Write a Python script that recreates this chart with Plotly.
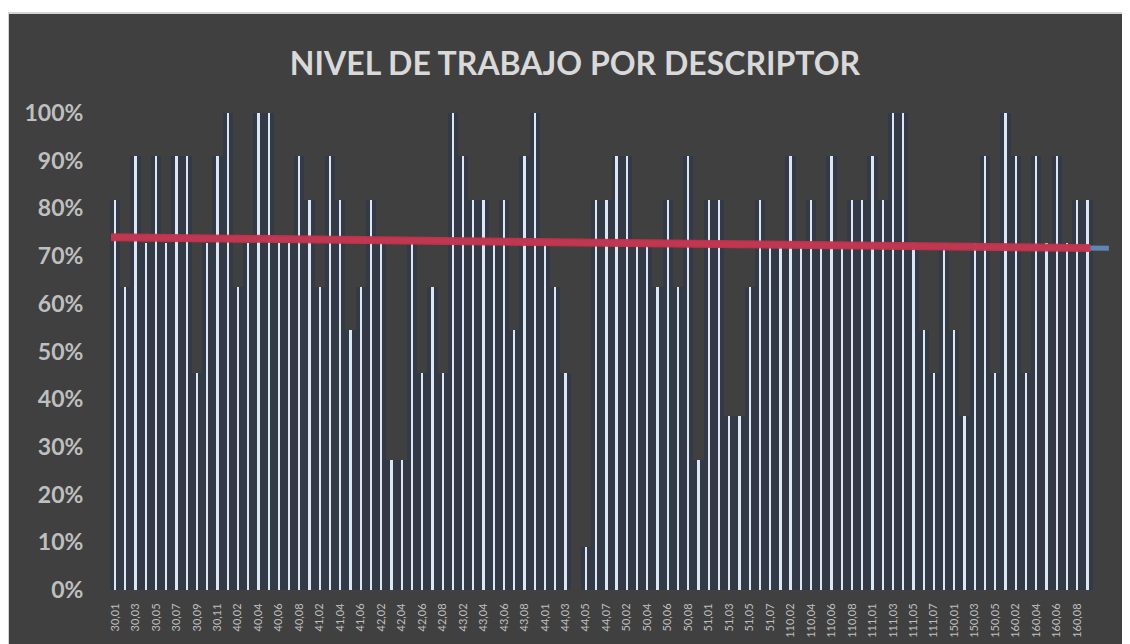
import numpy as np
import plotly.graph_objects as go

# ---------------- data ----------------
descriptors = [
    "30,01", "30,02", "30,03", "30,04", "30,05", "30,06", "30,07", "30,08", "30,09", "30,10", "30,11",
    "40,01", "40,02", "40,03", "40,04", "40,05", "40,06", "40,07", "40,08",
    "41,01", "41,02", "41,03", "41,04", "41,05", "41,06",
    "42,01", "42,02", "42,03", "42,04", "42,05", "42,06", "42,07", "42,08",
    "43,01", "43,02", "43,03", "43,04", "43,05", "43,06", "43,07", "43,08", "43,09",
    "44,01", "44,02", "44,03", "44,04", "44,05", "44,06", "44,07",
    "50,01", "50,02", "50,03", "50,04", "50,05", "50,06", "50,07", "50,08", "50,09",
    "51,01", "51,02", "51,03", "51,04", "51,05", "51,06", "51,07",
    "110,01", "110,02", "110,03", "110,04", "110,05", "110,06", "110,07", "110,08", "110,09",
    "111,01", "111,02", "111,03", "111,04", "111,05", "111,06", "111,07", "111,08",
    "150,01", "150,02", "150,03", "150,04", "150,05",
    "160,01", "160,02", "160,03", "160,04", "160,05", "160,06", "160,07", "160,08", "160,09",
]

nivel_pct = [
    81.8, 63.6, 90.9, 72.7, 90.9, 72.7, 90.9, 90.9, 45.5, 72.7, 90.9,
    100.0, 63.6, 72.7, 100.0, 100.0, 72.7, 72.7, 90.9,
    81.8, 63.6, 90.9, 81.8, 54.5, 63.6,
    81.8, 72.7, 27.3, 27.3, 72.7, 45.5, 63.6, 45.5,
    100.0, 90.9, 81.8, 81.8, 72.7, 81.8, 54.5, 90.9, 100.0,
    72.7, 63.6, 45.5, 0.0, 9.1, 81.8, 81.8,
    90.9, 90.9, 72.7, 72.7, 63.6, 81.8, 63.6, 90.9, 27.3,
    81.8, 81.8, 36.4, 36.4, 63.6, 81.8, 72.7,
    72.7, 90.9, 72.7, 81.8, 72.7, 90.9, 72.7, 81.8, 81.8,
    90.9, 81.8, 100.0, 100.0, 72.7, 54.5, 45.5, 72.7,
    54.5, 36.4, 72.7, 90.9, 45.5,
    100.0, 90.9, 45.5, 90.9, 72.7, 90.9, 72.7, 81.8, 81.8,
]

y_ticks = [0, 10, 20, 30, 40, 50, 60, 70, 80, 90, 100]
title_text = "NIVEL DE TRABAJO POR DESCRIPTOR"
forecast_periods = 2

# ---------------- derived ----------------
n = len(descriptors)
idx = np.arange(n)
vals = np.array(nivel_pct) / 100.0

slope, intercept = np.polyfit(idx, vals, 1)
x_fc = np.array([-0.4, n - 1 + forecast_periods + 0.1])
x_tr = np.array([-0.4, n - 1 + 0.3])

tick_idx = list(range(0, n, 2))
tick_lbl = [descriptors[i] for i in tick_idx]

fig = go.Figure()

# dark glow body of each bar
fig.add_trace(go.Bar(
    x=idx, y=vals, width=1.0,
    marker=dict(color="#333a45", line=dict(width=0)),
    hoverinfo="skip", showlegend=False,
))
# bright thin bar
fig.add_trace(go.Bar(
    x=idx, y=vals, width=0.22,
    marker=dict(color="#dbe7f4", line=dict(width=0)),
    customdata=descriptors,
    hovertemplate="%{customdata}: %{y:.1%}<extra></extra>",
    showlegend=False,
))
# forecast extension (blue) of linear trend
fig.add_trace(go.Scatter(
    x=x_fc, y=intercept + slope * x_fc, mode="lines",
    line=dict(color="#5f86b4", width=5),
    hoverinfo="skip", showlegend=False,
))
# linear trend (red)
fig.add_trace(go.Scatter(
    x=x_tr, y=intercept + slope * x_tr, mode="lines",
    line=dict(color="rgba(198,50,74,0.93)", width=8),
    hoverinfo="skip", showlegend=False,
))

# page has an 8px body margin; figure sized to fit the window
W, H = 1122, 636
ml, mr, mt, mb = 102, 17, 105, 54
pw, ph = W - ml - mr, H - mt - mb
px = lambda p: (p - ml) / pw
py = lambda p: (H - mb - p) / ph

fig.update_layout(
    width=W, height=H,
    margin=dict(l=ml, r=mr, t=mt, b=mb, pad=0, autoexpand=False),
    paper_bgcolor="#ffffff",
    plot_bgcolor="rgba(0,0,0,0)",
    barmode="overlay",
    bargap=0,
    title=dict(
        text=title_text,
        x=567 / W, xanchor="center",
        y=1 - 56 / H, yanchor="middle",
        font=dict(family="Lato", size=32, color="#d9d9d9", weight="bold"),
    ),
    shapes=[dict(
        type="rect", xref="paper", yref="paper", layer="below",
        x0=px(0), x1=px(W + 10), y0=py(H + 10), y1=py(5),
        fillcolor="#404040", line=dict(color="#d4d4d4", width=2),
    )],
    xaxis=dict(
        range=[-0.5, n - 0.5 + forecast_periods],
        automargin=False,
        tickmode="array", tickvals=tick_idx, ticktext=tick_lbl,
        tickangle=-90, ticks="outside", ticklen=8, tickcolor="rgba(0,0,0,0)",
        tickfont=dict(family="Lato", size=11, color="#bfbfbf"),
        showgrid=False, zeroline=False, showline=False,
    ),
    yaxis=dict(
        range=[0, 1],
        automargin=False,
        tickmode="array", tickvals=[t / 100 for t in y_ticks],
        ticktext=[f"{t}%" for t in y_ticks],
        ticks="outside", ticklen=21, tickcolor="rgba(0,0,0,0)",
        tickfont=dict(family="Lato", size=23, color="#bfbfbf", weight="bold"),
        showgrid=False, zeroline=False, showline=False,
    ),
)

fig.write_html("out.html")
